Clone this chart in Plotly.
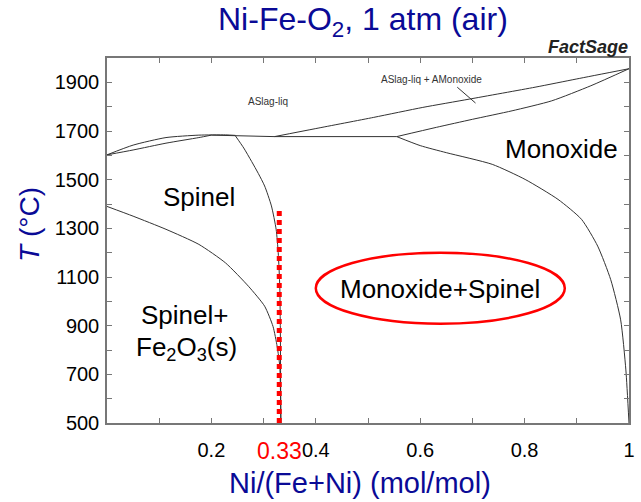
import plotly.graph_objects as go

# Phase boundaries of the Ni-Fe-O system in air: x = Ni/(Fe+Ni), T in °C
liq_left_x = [0.0, 0.05, 0.113, 0.176, 0.227, 0.246]
liq_left_T = [1602, 1642, 1673, 1683, 1684, 1682]

sol_left_x = [0.0, 0.05, 0.113, 0.176, 0.2]
sol_left_T = [1602, 1622, 1650, 1673, 1683]

flat_x = [0.2, 0.246, 0.32, 0.555]
flat_T = [1683, 1680, 1677, 1677]

liq_right_x = [0.321, 0.4, 0.511, 0.605, 0.694, 0.82, 0.9, 1.0]
liq_right_T = [1677, 1710, 1756, 1797, 1831, 1880, 1914, 1956]

sol_right_x = [0.555, 0.631, 0.70, 0.776, 0.852, 0.927, 1.0]
sol_right_T = [1677, 1715, 1748, 1783, 1824, 1886, 1956]

spinel_x = [0.246, 0.262, 0.277, 0.290, 0.302, 0.315, 0.324, 0.328, 0.331, 0.332, 0.333]
spinel_T = [1680, 1630, 1575, 1525, 1474, 1392, 1296, 1200, 1060, 900, 500]

hem_x = [0.0, 0.05, 0.113, 0.176, 0.227, 0.271, 0.302, 0.318, 0.326, 0.331, 0.333]
hem_T = [1390, 1350, 1296, 1234, 1158, 1062, 980, 897, 814, 732, 500]

mono_x = [0.555, 0.60, 0.65, 0.738, 0.801, 0.864, 0.909, 0.94, 0.965, 0.984, 0.994, 1.0]
mono_T = [1677, 1640, 1611, 1563, 1501, 1419, 1337, 1227, 1089, 924, 718, 500]

pointer_x = [0.671, 0.706]
pointer_T = [1880, 1815]

# Composition NiFe2O4 (Ni/(Fe+Ni) = 1/3)
marker_x = 0.33
marker_T = [500, 1385]

x_tickvals = [0.2, 0.4, 0.6, 0.8, 1.0]
x_ticktext = ["0.2", "0.4", "0.6", "0.8", "1"]
x_minorvals = [0.1, 0.3, 0.5, 0.7, 0.9]
y_tickvals = list(range(500, 2000, 200))
y_ticktext = [str(v) for v in y_tickvals]
y_minorvals = list(range(600, 2000, 200))

BLUE = "#0a0a96"
FONT = "Liberation Sans, Arial, sans-serif"

fig = go.Figure()
curves = [(liq_left_x, liq_left_T, True), (sol_left_x, sol_left_T, True),
          (flat_x, flat_T, False), (liq_right_x, liq_right_T, True),
          (sol_right_x, sol_right_T, True), (spinel_x, spinel_T, True),
          (hem_x, hem_T, True), (mono_x, mono_T, True), (pointer_x, pointer_T, False)]
for xs, ts, smooth in curves:
    line = dict(color="#333333", width=1)
    if smooth:
        line.update(shape="spline", smoothing=0.6)
    fig.add_trace(go.Scatter(x=xs, y=ts, mode="lines", line=line,
                             showlegend=False, hoverinfo="skip"))

fig.add_trace(go.Scatter(x=[marker_x, marker_x], y=marker_T, mode="lines",
                         line=dict(color="#ff0000", width=5, dash="5px,4px"),
                         showlegend=False, hoverinfo="skip"))

# Ellipse around the two-phase field label
fig.add_shape(type="circle", xref="x", yref="y", x0=0.40, x1=0.877, y0=908, y1=1200,
              line=dict(color="#ff0000", width=2.5))

def region(text, x, y, size=26, color="black"):
    fig.add_annotation(x=x, y=y, xref="x", yref="y", text=text, showarrow=False,
                       xanchor="center", yanchor="middle",
                       font=dict(size=size, color=color, family=FONT))

region("Spinel", 0.176, 1427)
region("Spinel+", 0.148, 945)
region("Fe<sub>2</sub>O<sub>3</sub>(s)", 0.152, 805)
region("Monoxide", 0.871, 1625)
region("Monoxide+Spinel", 0.638, 1050)
region("ASlag-liq", 0.309, 1820, size=10, color="#333333")
region("ASlag-liq + AMonoxide", 0.621, 1913, size=10, color="#333333")

def paper_text(text, x, y, size, color, xanchor="center", angle=0):
    fig.add_annotation(x=x, y=y, xref="paper", yref="paper", text=text,
                       showarrow=False, xanchor=xanchor, yanchor="middle",
                       textangle=angle, font=dict(size=size, color=color, family=FONT))

# red label under the x axis at x = 0.33
fig.add_annotation(x=marker_x, y=-0.0767, xref="x", yref="paper", text="0.33",
                   showarrow=False, xanchor="center", yanchor="middle",
                   font=dict(size=23, color="#ff0000", family=FONT))

paper_text("Ni-Fe-O<sub>2</sub>, 1 atm (air)", 0.491, 1.099, 32, BLUE)
paper_text("<b><i>FactSage</i></b>", 1.002, 1.03, 18, "#222222", xanchor="right")
paper_text("Ni/(Fe+Ni) (mol/mol)", 0.485, -0.164, 29, BLUE)
paper_text("<i>T</i> (°C)", -0.1496, 0.545, 28, BLUE, angle=-90)

axis_common = dict(showgrid=False, zeroline=False, showline=True, linecolor="#777777",
                   linewidth=1.5, mirror="allticks", ticks="inside", ticklen=5,
                   tickcolor="#777777", tickwidth=1,
                   tickfont=dict(size=20, color="black", family=FONT))

fig.update_xaxes(range=[0, 1], tickmode="array", tickvals=x_tickvals,
                 ticktext=x_ticktext, ticklabelstandoff=8,
                 minor=dict(tickvals=x_minorvals, ticks="inside", ticklen=5,
                            tickcolor="#777777", showgrid=False),
                 **axis_common)
fig.update_yaxes(range=[500, 2000], tickmode="array", tickvals=y_tickvals,
                 ticktext=y_ticktext, ticklabelstandoff=2,
                 minor=dict(tickvals=y_minorvals, ticks="inside", ticklen=5,
                            tickcolor="#777777", showgrid=False),
                 **axis_common)

fig.update_layout(width=641, height=502, margin=dict(l=107, r=6, t=58, b=79),
                  plot_bgcolor="white", paper_bgcolor="white",
                  font=dict(family=FONT))

fig.write_html("out.html")
